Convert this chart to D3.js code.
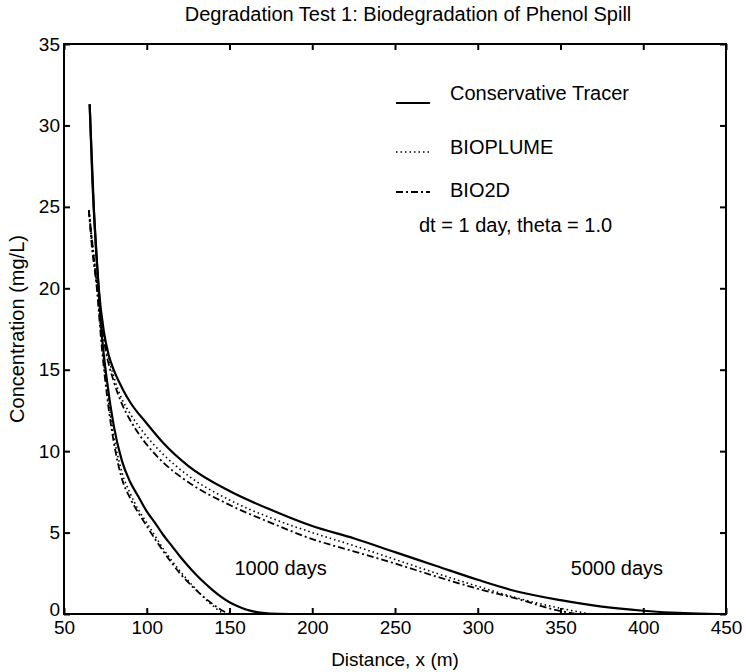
<!DOCTYPE html>
<html>
<head>
<meta charset="utf-8">
<script src="https://cdn.jsdelivr.net/npm/d3@7"></script>
<style>
  body { margin: 0; background: #fff; }
  svg text { font-family: "Liberation Sans", Arial, sans-serif; fill: #000; }
</style>
</head>
<body>
<svg id="chart" width="746" height="672"></svg>
<script>
// axis ticks
var xTicks = [50, 100, 150, 200, 250, 300, 350, 400, 450];
var yTicks = [0, 5, 10, 15, 20, 25, 30, 35];

// 5000 days
var tracer5000 = [[65.5,31.3],[67,27],[69,23],[71,20],[74,17.4],[77,15.9],[80,15.0],[85,13.9],[90,13.0],[100,11.7],[110,10.5],[125,9.1],[150,7.55],[175,6.4],[200,5.4],[225,4.65],[250,3.8],[275,2.95],[300,2.1],[325,1.35],[350,0.85],[375,0.45],[400,0.2],[425,0.05],[445,0]];
var bioplume5000 = [[65,24.8],[67,22.6],[70,20.3],[75,16.6],[80,14.6],[85,13.2],[90,12.3],[100,10.9],[110,9.8],[125,8.5],[150,7.0],[175,5.9],[200,5.0],[225,4.2],[250,3.35],[275,2.5],[300,1.7],[325,0.95],[350,0.35],[368,0]];
var bio2d5000 = [[65,24.8],[67,22.4],[70,20.1],[75,16.3],[80,14.3],[85,12.9],[90,11.9],[100,10.4],[110,9.3],[125,8.1],[150,6.7],[175,5.6],[200,4.6],[225,3.85],[250,3.1],[275,2.3],[300,1.55],[325,0.9],[345,0.3],[360,0]];

// 1000 days
var tracer1000 = [[65.5,31.3],[68,25],[70,21.5],[73,17],[76,14.3],[80,11.6],[85,9.4],[90,8.1],[95,7.2],[100,6.3],[105,5.6],[110,4.85],[115,4.2],[120,3.55],[125,2.95],[130,2.4],[135,1.9],[140,1.45],[145,1.05],[150,0.72],[155,0.47],[160,0.28],[165,0.15],[170,0.07],[180,0.01],[190,0]];
var bioplume1000 = [[65,24.8],[70,20],[73,16.5],[76,13.8],[80,11.0],[85,8.7],[90,7.4],[95,6.4],[100,5.6],[105,4.8],[110,4.0],[115,3.3],[120,2.65],[125,2.05],[130,1.5],[135,0.95],[140,0.5],[145,0.12],[148,0]];
var bio2d1000 = [[65,24.8],[70,19.8],[73,16.2],[76,13.4],[80,10.6],[85,8.3],[90,7.1],[95,6.2],[100,5.4],[105,4.6],[110,3.85],[115,3.15],[120,2.5],[125,1.95],[130,1.45],[135,1.0],[140,0.6],[145,0.25],[150,0]];

var legendNames = ["Conservative Tracer", "BIOPLUME", "BIO2D"];

var svg = d3.select("#chart");
var margin = {top: 44, right: 20, bottom: 58, left: 64};
var width = 746 - margin.left - margin.right,
    height = 672 - margin.top - margin.bottom;

var x = d3.scaleLinear().domain([50, 450]).range([0, width]);
var y = d3.scaleLinear().domain([0, 35]).range([height, 0]);

var g = svg.append("g").attr("transform", "translate(" + margin.left + "," + margin.top + ")");

var tickLen = 6;
function styleAxis(sel) {
  sel.select(".domain").remove();
  sel.selectAll(".tick line").attr("stroke", "#000").attr("stroke-width", 2);
  sel.selectAll(".tick text").style("font-size", "19px");
}

g.append("g").attr("transform", "translate(0," + height + ")")
  .call(d3.axisBottom(x).tickValues(xTicks).tickSizeInner(-tickLen).tickSizeOuter(0).tickPadding(6))
  .call(styleAxis)
  .selectAll(".tick text").attr("dy", "0.75em");
g.append("g")
  .call(d3.axisTop(x).tickValues(xTicks).tickSizeInner(-tickLen).tickSizeOuter(0).tickFormat(""))
  .call(styleAxis);
var yAxisG = g.append("g")
  .call(d3.axisLeft(y).tickValues(yTicks).tickSizeInner(-tickLen).tickSizeOuter(0).tickPadding(4))
  .call(styleAxis);
// lift the "0" a bit so it clears the "50" below it
yAxisG.selectAll(".tick text").filter(function(d) { return d === 0; }).attr("dy", "0.1em");
g.append("g").attr("transform", "translate(" + width + ",0)")
  .call(d3.axisRight(y).tickValues(yTicks).tickSizeInner(-tickLen).tickSizeOuter(0).tickFormat(""))
  .call(styleAxis);

g.append("rect").attr("width", width).attr("height", height)
  .attr("fill", "none").attr("stroke", "#000").attr("stroke-width", 2);

var line = d3.line()
  .x(function(d) { return x(d[0]); })
  .y(function(d) { return y(d[1]); })
  .curve(d3.curveMonotoneX);

var styles = {
  solid: {w: 2.2, dash: null},
  dot: {w: 1.6, dash: "1.5,3"},
  dashdot: {w: 1.8, dash: "7,3,2,3"}
};

[[tracer5000, "solid"], [bioplume5000, "dot"], [bio2d5000, "dashdot"],
 [tracer1000, "solid"], [bioplume1000, "dot"], [bio2d1000, "dashdot"]].forEach(function(s) {
  g.append("path").datum(s[0])
    .attr("fill", "none")
    .attr("stroke", "#000")
    .attr("stroke-width", styles[s[1]].w)
    .attr("stroke-dasharray", styles[s[1]].dash)
    .attr("d", line);
});

// legend
var legY = [49, 103, 146];
var legLineY = [59, 108, 148];
var legStyle = ["solid", "dot", "dashdot"];
legendNames.forEach(function(name, i) {
  g.append("line")
    .attr("x1", 332).attr("x2", 366)
    .attr("y1", legLineY[i]).attr("y2", legLineY[i])
    .attr("stroke", "#000")
    .attr("stroke-width", styles[legStyle[i]].w)
    .attr("stroke-dasharray", styles[legStyle[i]].dash);
  g.append("text").attr("x", 386).attr("y", legY[i]).attr("dy", "0.35em")
    .style("font-size", "20px").text(name);
});
g.append("text").attr("x", 355).attr("y", 181).attr("dy", "0.35em")
  .style("font-size", "20px").text("dt = 1 day,  theta = 1.0");

g.append("text").attr("x", x(153)).attr("y", y(2.8)).attr("dy", "0.35em")
  .style("font-size", "20px").text("1000 days");
g.append("text").attr("x", x(412)).attr("y", y(2.8)).attr("dy", "0.35em")
  .attr("text-anchor", "end")
  .style("font-size", "20px").text("5000 days");

svg.append("text").attr("x", 408).attr("y", 21).attr("text-anchor", "middle")
  .style("font-size", "20px").text("Degradation Test 1: Biodegradation of Phenol Spill");
svg.append("text").attr("x", margin.left + width / 2).attr("y", 666).attr("text-anchor", "middle")
  .style("font-size", "19px").text("Distance, x (m)");
svg.append("text").attr("transform", "translate(24," + (margin.top + height / 2) + ") rotate(-90)")
  .attr("text-anchor", "middle").style("font-size", "20px").text("Concentration  (mg/L)");
</script>
</body>
</html>
